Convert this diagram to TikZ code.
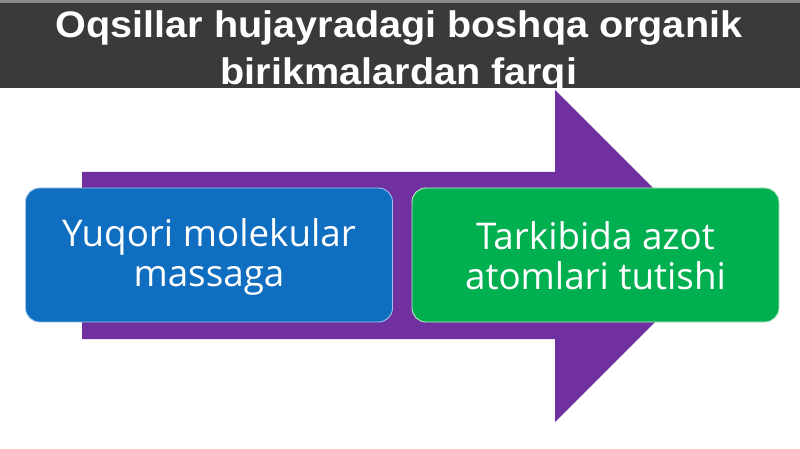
\documentclass[tikz,border=0pt]{standalone}
\usepackage{fontspec}
\setmainfont{Liberation Sans}
\newfontfamily\boxfont{Open Sans}
\definecolor{barbg}{HTML}{3A3A3A}
\definecolor{barline}{HTML}{8A8A8A}
\definecolor{arrowpurple}{HTML}{7030A0}
\definecolor{boxblue}{HTML}{0F6EBF}
\definecolor{boxblueline}{HTML}{9DC3E6}
\definecolor{boxgreen}{HTML}{00B050}
\definecolor{boxgreenline}{HTML}{BFE8CF}
\tikzset{
  infobox/.style={rounded corners=14pt, minimum width=367pt, minimum height=134pt,
    line width=0.9pt, inner sep=0pt},
  boxtext/.style={text=white, align=center, inner sep=0pt,
    font=\boxfont\fontsize{36.8}{40}\selectfont},
  titletext/.style={text=white, align=center, inner sep=0pt, transform shape, xscale=1.07,
    font=\bfseries\fontsize{37}{47}\selectfont}
}
\begin{document}
\begin{tikzpicture}[x=1pt,y=-1pt]
\useasboundingbox (0,0) rectangle (800,449);
\fill[white] (0,0) rectangle (800,449);
% arrow
\fill[arrowpurple] (82,172) -- (555,172) -- (555,90) -- (721,256) -- (555,422) -- (555,339) -- (82,339) -- cycle;
% title bar
\fill[barbg] (0,0) rectangle (800,88);
\fill[barline] (0,0) rectangle (800,3);
\node[titletext] (title) at (399,51) {Oqsillar hujayradagi boshqa organik\\birikmalardan farqi};
% boxes
\node[infobox, fill=boxblue, draw=boxblueline] (mass) at (209,255) {};
\node[infobox, fill=boxgreen, draw=boxgreenline] (azot) at (595.5,255) {};
\node[boxtext] (masstext) at ([yshift=-2pt]mass.center) {Yuqori molekular\\massaga};
\node[boxtext] (azottext) at ([yshift=-1pt]azot.center) {Tarkibida azot\\atomlari tutishi};
\end{tikzpicture}
\end{document}
